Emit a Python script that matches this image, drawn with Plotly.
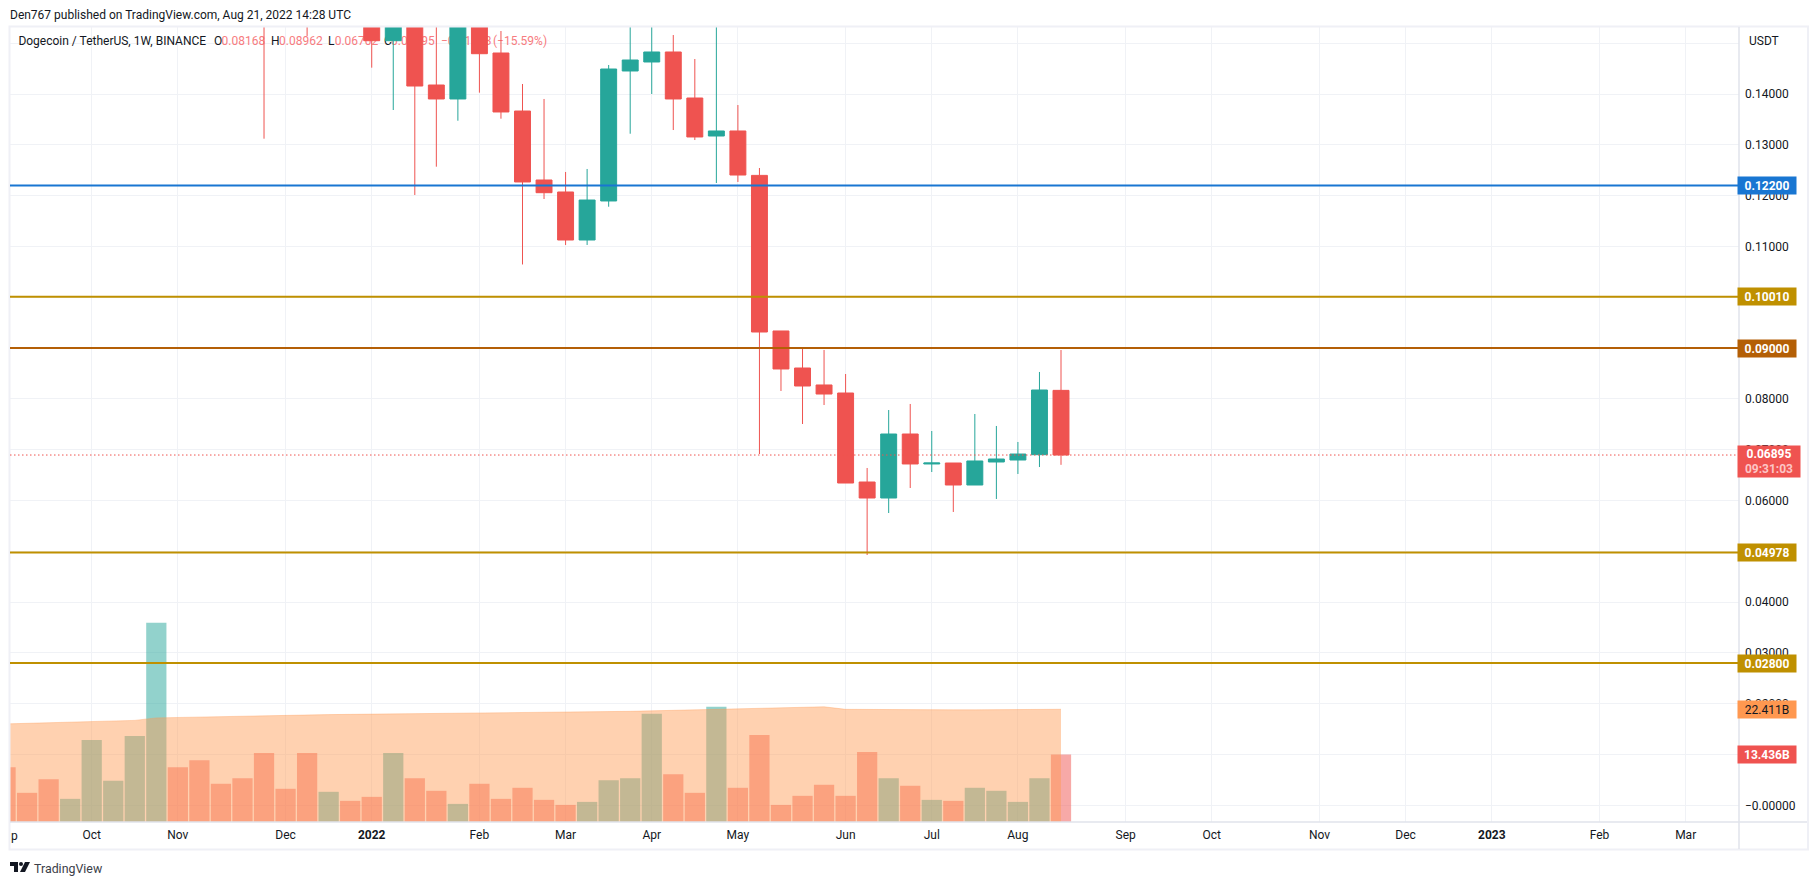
import pandas as pd
import plotly.graph_objects as go

W, H = 1818, 885
L, R, T, B = 10, 1739, 27, 822   # plot box in page pixels
FONT = "Roboto"

# weekly candles, prices above 0.153 are off the chart and only estimated
candle_dates = pd.date_range("2021-11-29", "2022-08-15", freq="7D")
opens = [0.2100, 0.1900, 0.1700, 0.1650, 0.1900, 0.1700, 0.15051, 0.1700, 0.14179, 0.13904,
         0.1700, 0.14809, 0.13667, 0.12309, 0.12073, 0.11128, 0.11896, 0.14455, 0.14632, 0.14829,
         0.13923, 0.13175, 0.13274, 0.12400, 0.09337, 0.08608, 0.08274, 0.08116, 0.06364, 0.06049,
         0.07309, 0.06719, 0.06738, 0.06305, 0.06758, 0.06797, 0.06902, 0.08168]
highs = [0.2250, 0.2000, 0.1800, 0.1950, 0.1950, 0.1750, 0.1900, 0.1800, 0.1650, 0.1800,
         0.2000, 0.15242, 0.14199, 0.13904, 0.12467, 0.12526, 0.14573, 0.1700, 0.1700, 0.15163,
         0.14691, 0.1700, 0.13785, 0.12545, 0.09337, 0.08982, 0.08963, 0.08490, 0.06640, 0.07781,
         0.07900, 0.07368, 0.06738, 0.07703, 0.07467, 0.07152, 0.08530, 0.08962]
lows = [0.13122, 0.1580, 0.15144, 0.1580, 0.1630, 0.14520, 0.13687, 0.12014, 0.12571, 0.13476,
        0.14028, 0.13516, 0.10646, 0.11935, 0.11030, 0.11030, 0.11783, 0.13220, 0.14002, 0.13293,
        0.13096, 0.12250, 0.12270, 0.06915, 0.08156, 0.07506, 0.07880, 0.06344, 0.04927, 0.05754,
        0.06246, 0.06561, 0.05774, 0.06305, 0.06030, 0.06522, 0.06659, 0.06702]
closes = [0.1900, 0.1700, 0.1650, 0.1850, 0.1700, 0.15051, 0.1800, 0.14159, 0.13904, 0.1700,
          0.14795, 0.13648, 0.12270, 0.12059, 0.11128, 0.11915, 0.14494, 0.14671, 0.14829, 0.13904,
          0.13156, 0.13274, 0.12407, 0.09317, 0.08589, 0.08254, 0.08096, 0.06344, 0.06049, 0.07309,
          0.06719, 0.06738, 0.06305, 0.06778, 0.06817, 0.06915, 0.08175, 0.06895]

# volume in billions, with its moving average
volume_dates = pd.date_range("2021-09-06", "2022-08-15", freq="7D")
volumes = [10.9, 5.8, 8.5, 4.6, 16.3, 8.2, 17.1, 39.6, 10.9, 12.3,
           7.6, 8.7, 13.7, 6.6, 13.7, 6.0, 4.2, 5.0, 13.7, 8.7,
           6.2, 3.6, 7.6, 4.6, 6.8, 4.4, 3.4, 4.0, 8.3, 8.7,
           21.5, 9.5, 5.8, 22.9, 6.8, 17.3, 3.4, 5.2, 7.4, 5.2,
           13.9, 8.7, 7.2, 4.4, 4.2, 6.8, 6.2, 4.0, 8.7, 13.436]
volume_dir = ["d", "d", "d", "u", "u", "u", "u", "u", "d", "d",
              "d", "d", "d", "d", "d", "u", "d", "d", "u", "d",
              "d", "u", "d", "d", "d", "d", "d", "u", "u", "u",
              "u", "d", "d", "u", "d", "d", "d", "d", "d", "d",
              "d", "u", "d", "u", "d", "u", "u", "u", "u", "d"]
volume_ma = [19.5, 19.6, 19.7, 19.8, 19.9, 20.0, 20.2, 20.7, 20.8, 20.9,
             21.0, 21.1, 21.2, 21.2, 21.3, 21.35, 21.4, 21.45, 21.5, 21.55,
             21.6, 21.65, 21.7, 21.7, 21.7, 21.7, 21.75, 21.8, 21.9, 22.0,
             22.1, 22.2, 22.3, 22.5, 22.55, 22.65, 22.7, 22.8, 22.9, 22.4,
             22.35, 22.3, 22.3, 22.3, 22.3, 22.3, 22.3, 22.3, 22.35, 22.411]

# axes
price_ticks = [0.15, 0.14, 0.13, 0.12, 0.11, 0.10, 0.09, 0.08, 0.07, 0.06, 0.05, 0.04, 0.03, 0.02, 0.01, 0.0]
price_labels = ["", "0.14000", "0.13000", "0.12000", "0.11000", "0.10000", "0.09000", "0.08000",
                "0.07000", "0.06000", "0.05000", "0.04000", "0.03000", "0.02000", "0.01000", "\u22120.00000"]
month_ticks = ["2021-10-04", "2021-11-01", "2021-12-06", "2022-01-03", "2022-02-07", "2022-03-07",
               "2022-04-04", "2022-05-02", "2022-06-06", "2022-07-04", "2022-08-01", "2022-09-05",
               "2022-10-03", "2022-11-07", "2022-12-05", "2023-01-02", "2023-02-06", "2023-03-06"]
month_labels = ["Oct", "Nov", "Dec", "<b>2022</b>", "Feb", "Mar", "Apr", "May", "Jun", "Jul", "Aug",
                "Sep", "Oct", "Nov", "Dec", "<b>2023</b>", "Feb", "Mar"]

# drawn levels: price, colour
levels = [(0.12200, "#1976d2"), (0.10010, "#bf9000"), (0.09000, "#b45f06"),
          (0.04978, "#bf9000"), (0.02800, "#bf9000")]
last_price = 0.06895

# legend line at the top of the chart, it sits under the candles
legend_px = [18.4, 214, 221.6, 271, 279, 328, 334.7, 384, 391, 441, 493]
legend_texts = ["Dogecoin / TetherUS, 1W, BINANCE", "O", "0.08168", "H", "0.08962", "L", "0.06702",
                "C", "0.06895", "\u22120.01273", "(\u221215.59%)"]
legend_colours = ["#131722", "#131722", "#f77c80", "#131722", "#f77c80", "#131722", "#f77c80",
                  "#131722", "#f77c80", "#f77c80", "#f77c80"]

UP, DOWN = "#26a69a", "#ef5350"

# pixel scales
px_per_price = 5080.0
zero_y = 805.3
px_per_b = 5.03
px_per_day = 21.54 / 7
oct4_x = 91.7


def xp(px):
    return (px - L) / (R - L)


def yp(py):
    return (B - py) / (B - T)


def px_date(px):
    return pd.Timestamp("2021-10-04") + pd.Timedelta(days=(px - oct4_x) / px_per_day)


price_range = [(zero_y - B) / px_per_price, (zero_y - T) / px_per_price]

fig = go.Figure()

# lowest subplot only holds the legend text, the overlaid ones paint over it
fig.add_trace(go.Scatter(
    x=[px_date(p) for p in legend_px], y=[(zero_y - 42) / px_per_price] * len(legend_px),
    mode="text", text=legend_texts, textposition="middle right",
    textfont=dict(family=FONT, size=12, color=legend_colours), hoverinfo="skip",
))
fig.add_trace(go.Bar(
    x=volume_dates, y=volumes, yaxis="y2",
    marker=dict(color=["rgba(38,166,154,0.5)" if d == "u" else "rgba(239,83,80,0.5)" for d in volume_dir],
                line_width=0),
    hoverinfo="skip",
))
fig.add_trace(go.Scatter(
    x=volume_dates, y=volume_ma, yaxis="y2", mode="lines", fill="tozeroy",
    fillcolor="rgba(255,152,80,0.45)", line=dict(color="rgba(255,152,80,0.35)", width=1),
    hoverinfo="skip",
))
fig.add_trace(go.Candlestick(
    x=candle_dates, open=opens, high=highs, low=lows, close=closes, yaxis="y3",
    increasing=dict(line=dict(color=UP, width=1), fillcolor=UP),
    decreasing=dict(line=dict(color=DOWN, width=1), fillcolor=DOWN),
    whiskerwidth=0, hoverinfo="skip",
))

shapes = []
# page frame and axis separators
frame = "#eff0f6"
shapes.append(dict(type="rect", xref="paper", yref="paper", x0=xp(9.5), x1=xp(1808), y0=yp(26.5), y1=yp(849.5),
                   line=dict(color=frame, width=2), layer="above"))
shapes.append(dict(type="line", xref="paper", yref="paper", x0=xp(L), x1=xp(1807), y0=0, y1=0,
                   line=dict(color="#e0e3eb", width=1.5)))
shapes.append(dict(type="line", xref="paper", yref="paper", x0=1, x1=1, y0=yp(849), y1=yp(T),
                   line=dict(color="#e0e3eb", width=1.5)))
# price levels
for price, colour in levels:
    shapes.append(dict(type="line", xref="paper", yref="y", x0=0, x1=1, y0=price, y1=price,
                       line=dict(color=colour, width=2)))
shapes.append(dict(type="line", xref="paper", yref="y", x0=0, x1=1, y0=last_price, y1=last_price,
                   line=dict(color=DOWN, width=1, dash="1.5px,2.5px")))
# TradingView mark
mark = [[(10, 862), (18, 862), (18, 872), (14, 872), (14, 866), (10, 866)],
        [(25, 862), (30, 862), (25, 872), (20, 872)]]
for poly in mark:
    path = "M" + " L".join(f"{xp(a):.5f},{yp(b):.5f}" for a, b in poly) + " Z"
    shapes.append(dict(type="path", xref="paper", yref="paper", path=path, fillcolor="#131722", line_width=0))
shapes.append(dict(type="circle", xref="paper", yref="paper", x0=xp(19), x1=xp(23), y0=yp(866), y1=yp(862),
                   fillcolor="#131722", line_width=0))

annotations = []


def price_tag(y, text, bg, yref="y", width=58, height=17, colour="white", yshift=0):
    annotations.append(dict(xref="paper", yref=yref, x=1, y=y, xanchor="left", yanchor="middle",
                            xshift=-2, yshift=yshift,
                            text=text, showarrow=False, bgcolor=bg, width=width, height=height, align="center",
                            font=dict(family=FONT, size=12, color=colour), borderpad=0))


for price, colour in levels:
    price_tag(price, f"<b>{price:.5f}</b>", colour)
price_tag(last_price, "<b>0.06895</b><br><span style='color:#fdc5c5'><b>09:31:03</b></span>", DOWN,
          width=62, height=31, yshift=-6)
price_tag(volume_ma[-1], "22.411B", "#ff9850", yref="y2", colour="#131722")
price_tag(volumes[-1], "<b>13.436B</b>", DOWN, yref="y2")


def page_text(x, y, text, size=12, colour="#131722"):
    annotations.append(dict(xref="paper", yref="paper", x=xp(x), y=yp(y), xanchor="left", yanchor="middle",
                            text=text, showarrow=False, font=dict(family=FONT, size=size, color=colour)))


page_text(8, 15, "Den767 published on TradingView.com, Aug 21, 2022 14:28 UTC")
page_text(1746.5, 40.7, "USDT")
page_text(9, 836, "p")
page_text(31.5, 868, "TradingView", size=12.4, colour="#3c4049")

fig.update_layout(
    width=W, height=H,
    margin=dict(l=L, r=W - R, t=T, b=H - B),
    paper_bgcolor="white", plot_bgcolor="white",
    showlegend=False, barmode="overlay", bargap=0.06, boxgap=0.26, boxgroupgap=0,
    font=dict(family=FONT, size=12, color="#131722"),
    xaxis=dict(type="date", range=[px_date(L), px_date(R)], tickmode="array", tickvals=month_ticks,
               ticktext=month_labels, tickangle=0, showgrid=True, gridcolor="#f0f2f6", gridwidth=1,
               zeroline=False, showline=False, ticks="", ticklabelstandoff=4,
               rangeslider=dict(visible=False), tickfont=dict(family=FONT, size=12, color="#131722")),
    yaxis=dict(side="right", range=price_range,
               tickmode="array", tickvals=price_ticks, ticktext=price_labels, showgrid=True,
               gridcolor="#f0f2f6", gridwidth=1, zeroline=False, showline=False, ticks="",
               ticklabelstandoff=5, tickfont=dict(family=FONT, size=12, color="#131722")),
    yaxis2=dict(overlaying="y", side="left", range=[0, (B - T) / px_per_b], visible=False),
    yaxis3=dict(overlaying="y", side="right", range=price_range, visible=False),
    shapes=shapes, annotations=annotations,
)

fig.write_html("out.html", config={"displayModeBar": False},
               post_script="document.body.style.margin='0';document.body.style.overflow='hidden';")
